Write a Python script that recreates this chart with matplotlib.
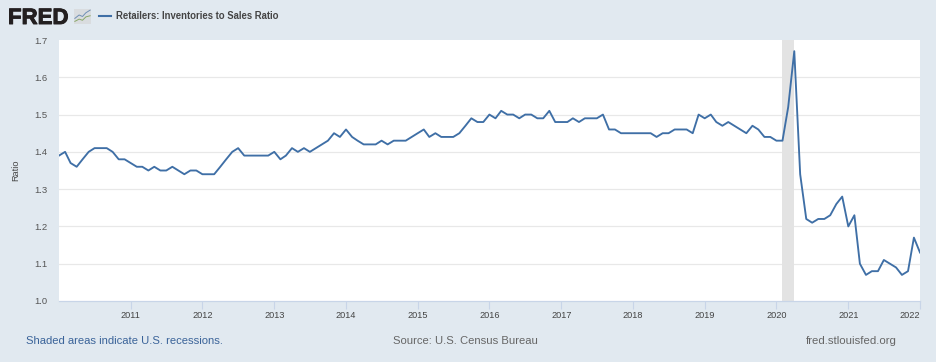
# -*- coding: utf-8 -*-
"""
FRED chart: retailers inventories to sales ratio.
"""

import pandas as pd
import matplotlib.pyplot as plt
import matplotlib.dates as mdates
import matplotlib.patheffects as pe
from matplotlib.lines import Line2D
from matplotlib.patches import Rectangle

plt.rcParams['font.family'] = ['Liberation Sans', 'DejaVu Sans']

# Monthly values, Jan of each year first
ratio_2010 = [1.39, 1.40, 1.37, 1.36, 1.38, 1.40, 1.41, 1.41, 1.41, 1.40, 1.38, 1.38]
ratio_2011 = [1.37, 1.36, 1.36, 1.35, 1.36, 1.35, 1.35, 1.36, 1.35, 1.34, 1.35, 1.35]
ratio_2012 = [1.34, 1.34, 1.34, 1.36, 1.38, 1.40, 1.41, 1.39, 1.39, 1.39, 1.39, 1.39]
ratio_2013 = [1.40, 1.38, 1.39, 1.41, 1.40, 1.41, 1.40, 1.41, 1.42, 1.43, 1.45, 1.44]
ratio_2014 = [1.46, 1.44, 1.43, 1.42, 1.42, 1.42, 1.43, 1.42, 1.43, 1.43, 1.43, 1.44]
ratio_2015 = [1.45, 1.46, 1.44, 1.45, 1.44, 1.44, 1.44, 1.45, 1.47, 1.49, 1.48, 1.48]
ratio_2016 = [1.50, 1.49, 1.51, 1.50, 1.50, 1.49, 1.50, 1.50, 1.49, 1.49, 1.51, 1.48]
ratio_2017 = [1.48, 1.48, 1.49, 1.48, 1.49, 1.49, 1.49, 1.50, 1.46, 1.46, 1.45, 1.45]
ratio_2018 = [1.45, 1.45, 1.45, 1.45, 1.44, 1.45, 1.45, 1.46, 1.46, 1.46, 1.45, 1.50]
ratio_2019 = [1.49, 1.50, 1.48, 1.47, 1.48, 1.47, 1.46, 1.45, 1.47, 1.46, 1.44, 1.44]
ratio_2020 = [1.43, 1.43, 1.52, 1.67, 1.34, 1.22, 1.21, 1.22, 1.22, 1.23, 1.26, 1.28]
ratio_2021 = [1.20, 1.23, 1.10, 1.07, 1.08, 1.08, 1.11, 1.10, 1.09, 1.07, 1.08, 1.17]
ratio_2022 = [1.13]

ratio = (ratio_2010 + ratio_2011 + ratio_2012 + ratio_2013 + ratio_2014
         + ratio_2015 + ratio_2016 + ratio_2017 + ratio_2018 + ratio_2019
         + ratio_2020 + ratio_2021 + ratio_2022)
months = pd.date_range('2010-01-01', periods=len(ratio), freq='MS')

recession_start = '2020-02-01'
recession_end = '2020-04-01'
year_ticks = list(range(2011, 2023))
ratio_ticks = [1.0, 1.1, 1.2, 1.3, 1.4, 1.5, 1.6, 1.7]

W, H = 936, 362
BG = '#e1e9f0'
LINE = '#3f6fa6'
AXIS = '#c8d5e8'
TEXT = '#555555'

fig = plt.figure(figsize=(W / 100, H / 100), dpi=100, facecolor=BG)
ax = fig.add_axes([59 / W, 1 - 301 / H, (920 - 59) / W, (301 - 40) / H])

ax.axvspan(pd.Timestamp(recession_start), pd.Timestamp(recession_end),
           color='#e3e3e3', lw=0, zorder=1)
ax.plot(months, ratio, color=LINE, lw=1.35, zorder=3, clip_on=True)

ax.set_xlim(pd.Timestamp('2010-01-01'), pd.Timestamp('2022-01-01'))
ax.set_ylim(1.0, 1.7)
ax.set_yticks(ratio_ticks)
ax.set_yticklabels(['%.1f' % v for v in ratio_ticks])
ax.set_xticks([pd.Timestamp(year=y, month=1, day=1) for y in year_ticks])
ax.xaxis.set_major_formatter(mdates.DateFormatter('%Y'))

ax.grid(True, axis='y', color='#e8e8e8', lw=0.9, zorder=0)
ax.set_axisbelow(True)
ax.yaxis.get_gridlines()[0].set_visible(False)
ax.yaxis.get_gridlines()[-1].set_visible(False)

for side in ['top', 'right', 'left']:
    ax.spines[side].set_visible(False)
ax.spines['bottom'].set_color(AXIS)
ax.spines['bottom'].set_linewidth(0.9)

ax.tick_params(axis='y', length=0, pad=8.5, labelsize=6.8, labelcolor=TEXT)
ax.tick_params(axis='x', length=5.5, width=0.8, color=AXIS, pad=1.5,
               labelsize=6.6, labelcolor='#444444')
ax.get_xticklabels()[-1].set_horizontalalignment('right')

fig.text(16 / W, 1 - 170 / H, 'Ratio', rotation=90, ha='center', va='center',
         fontsize=6.6, color='#444444')

# Header: logo and legend
fig.text(8 / W, 1 - 24 / H, 'FRED', fontsize=16, fontweight='bold',
         color='#231f20', va='baseline', ha='left',
         path_effects=[pe.withStroke(linewidth=0.7, foreground='#231f20')])
icon = fig.add_axes([74 / W, 1 - 24 / H, 17 / W, 15 / H])
icon.set_xlim(0, 4)
icon.set_ylim(0, 4)
icon.axis('off')
icon.add_patch(Rectangle((0, 0), 4, 4, color='#d9dcdf', lw=0))
icon.plot([0.2, 1.2, 2, 2.8, 3.8], [1.5, 2.4, 2, 3, 3.7], color='#6f8fb5', lw=0.7)
icon.plot([0.2, 1.2, 2, 2.8, 3.8], [0.7, 1.3, 1, 1.9, 2.2], color='#8aa86a', lw=0.7)

fig.add_artist(Line2D([99 / W, 111 / W], [1 - 16 / H, 1 - 16 / H],
                      color=LINE, lw=1.5))
fig.text(115.5 / W, 1 - 16 / H, 'Retailers: Inventories to Sales Ratio',
         fontsize=6.85, fontweight='bold', color='#444444', va='center')

# Footer
fig.text(26.5 / W, 1 - 341 / H, 'Shaded areas indicate U.S. recessions.',
         fontsize=8.15, color='#3a6399', va='center')
fig.text(393 / W, 1 - 341 / H, 'Source: U.S. Census Bureau',
         fontsize=8.1, color='#666666', va='center')
fig.text(806 / W, 1 - 341 / H, 'fred.stlouisfed.org',
         fontsize=8.2, color='#666666', va='center')

fig.savefig('out.png', dpi=100, facecolor=BG)
